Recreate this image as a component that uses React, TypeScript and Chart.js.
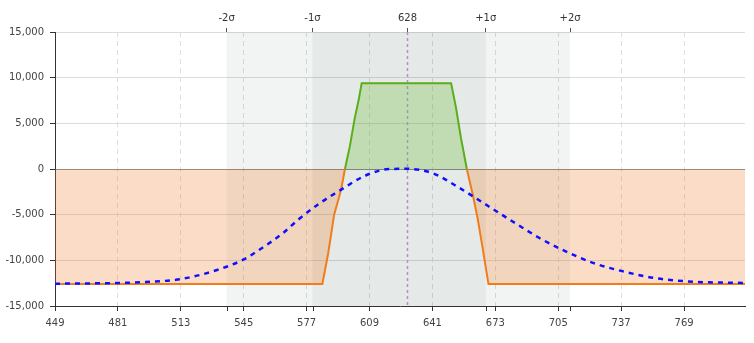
import { useEffect, useRef } from 'react';
import { Chart, registerables } from 'chart.js';

Chart.register(...registerables);

const X_MIN = 449;
const X_MAX = 800;
const Y_MIN = -15000;
const Y_MAX = 15000;

const xTickValues = [449, 481, 513, 545, 577, 609, 641, 673, 705, 737, 769];
const sigmaPositions = [536.3, 580, 628.3, 668.1, 711];
const sigmaLabels = ['-2σ', '-1σ', '628', '+1σ', '+2σ'];

// Expiration payoff
const payoffX = [449, 585, 588, 591, 594.5, 596.5, 599, 601.5, 603.5, 605, 650.5, 653, 655.5, 658.5, 661.5, 664, 666.5, 669.5, 800];
const payoffY = [-12600, -12600, -9200, -5000, -2300, 0, 2500, 5600, 7600, 9400, 9400, 6700, 3400, 0, -2800, -5400, -8600, -12600, -12600];

// Today's (T+0) curve
const todayX = [449, 481, 495, 513, 533, 545, 553, 565, 573, 583, 595, 607, 619, 628, 641, 653, 663, 675, 685, 695, 707, 723, 738, 754, 771, 800];
const todayY = [-12560, -12480, -12370, -12050, -10950, -9900, -8840, -7010, -5500, -3850, -2200, -710, -10, 20, -450, -1840, -3180, -4830, -6180, -7500, -8840, -10300, -11210, -11940, -12310, -12480];

const GREEN = '#5aae1e';
const ORANGE = '#f07c1c';
const FONT = { family: 'DejaVu Sans', size: 10 };

const bandsPlugin = {
  id: 'bands',
  beforeDatasetsDraw(chart: any) {
    const { ctx, chartArea, scales } = chart;
    const x = scales.x;
    ctx.save();
    ctx.fillStyle = 'rgba(38,72,55,0.06)';
    [[0, 4], [1, 3]].forEach(([a, b]) => {
      const x1 = x.getPixelForValue(sigmaPositions[a]);
      const x2 = x.getPixelForValue(sigmaPositions[b]);
      ctx.fillRect(x1, chartArea.top, x2 - x1, chartArea.bottom - chartArea.top);
    });
    // mean line
    const xm = Math.round(x.getPixelForValue(sigmaPositions[2])) + 0.5;
    ctx.strokeStyle = '#b38fd0';
    ctx.lineWidth = 1.5;
    ctx.setLineDash([3, 3]);
    ctx.beginPath();
    ctx.moveTo(xm, chartArea.top);
    ctx.lineTo(xm, chartArea.bottom);
    ctx.stroke();
    ctx.restore();
  },
  afterDraw(chart: any) {
    const { ctx, chartArea, scales } = chart;
    const x = scales.x;
    ctx.save();
    ctx.strokeStyle = '#333';
    ctx.lineWidth = 1;
    sigmaPositions.forEach((v, i) => {
      if (i === 2) return;
      const px = Math.round(x.getPixelForValue(v)) + 0.5;
      ctx.beginPath();
      ctx.moveTo(px, chartArea.bottom);
      ctx.lineTo(px, chartArea.bottom + 5);
      ctx.stroke();
    });
    ctx.restore();
  },
};

export default function App() {
  const ref = useRef<HTMLCanvasElement | null>(null);
  useEffect(() => {
    document.body.style.margin = '0';
    const canvas = ref.current!;
    const chart = new Chart(canvas, {
      type: 'line',
      data: {
        datasets: [
          {
            label: 'Today',
            data: todayX.map((v, i) => ({ x: v, y: todayY[i] })),
            borderColor: '#1010ff',
            borderWidth: 2.5,
            borderDash: [5, 5],
            pointRadius: 0,
            tension: 0.4,
            cubicInterpolationMode: 'monotone',
            fill: false,
            order: 0,
          },
          {
            label: 'Expiration',
            data: payoffX.map((v, i) => ({ x: v, y: payoffY[i] })),
            borderWidth: 2,
            borderColor: ORANGE,
            pointRadius: 0,
            tension: 0,
            fill: { target: { value: 0 }, above: 'rgba(110,190,60,0.3)', below: 'rgba(240,120,30,0.25)' },
            segment: {
              borderColor: (c: any) => (c.p0.parsed.y + c.p1.parsed.y > 0 ? GREEN : ORANGE),
            },
            order: 1,
          },
        ],
      },
      options: {
        animation: false,
        responsive: false,
        layout: { padding: { left: 0, right: 9, top: 0, bottom: 0 } },
        plugins: { legend: { display: false }, tooltip: { enabled: false } },
        scales: {
          x: {
            type: 'linear',
            position: 'bottom',
            min: X_MIN,
            max: X_MAX,
            afterBuildTicks: (s: any) => {
              s.ticks = xTickValues.map((v) => ({ value: v }));
            },
            afterFit: (s: any) => {
              s.height = 37;
            },
            ticks: {
              font: FONT,
              color: '#444',
              padding: 6,
              maxRotation: 0,
              autoSkip: false,
              callback: (v: any) => String(v),
            },
            grid: {
              color: '#dedede',
              tickColor: '#333',
              tickLength: 5,
              drawOnChartArea: true,
            },
            border: { display: true, color: '#333', width: 1, dash: [5, 4] },
          },
          x2: {
            type: 'linear',
            position: 'top',
            min: X_MIN,
            max: X_MAX,
            afterBuildTicks: (s: any) => {
              s.ticks = sigmaPositions.map((v) => ({ value: v }));
            },
            afterFit: (s: any) => {
              s.height = 32;
            },
            ticks: {
              font: FONT,
              color: '#333',
              padding: 4,
              maxRotation: 0,
              autoSkip: false,
              callback: (_v: any, i: number) => sigmaLabels[i],
            },
            grid: {
              drawOnChartArea: false,
              tickColor: '#555',
              tickLength: 4,
            },
            border: { display: false },
          },
          y: {
            type: 'linear',
            min: Y_MIN,
            max: Y_MAX,
            afterFit: (s: any) => {
              s.width = 55;
            },
            ticks: {
              stepSize: 5000,
              font: FONT,
              color: '#444',
              padding: 6,
              callback: (v: any) => Number(v).toLocaleString('en-US'),
            },
            grid: {
              color: (c: any) => (c.tick && c.tick.value === 0 ? '#8c8c8c' : '#dcdcdc'),
              tickColor: '#333',
              tickLength: 5,
            },
            border: { display: true, color: '#333', width: 1 },
          },
        },
      },
      plugins: [bandsPlugin],
    } as any);
    return () => chart.destroy();
  }, []);
  return <canvas ref={ref} width={754} height={343} style={{ display: 'block' }} />;
}
